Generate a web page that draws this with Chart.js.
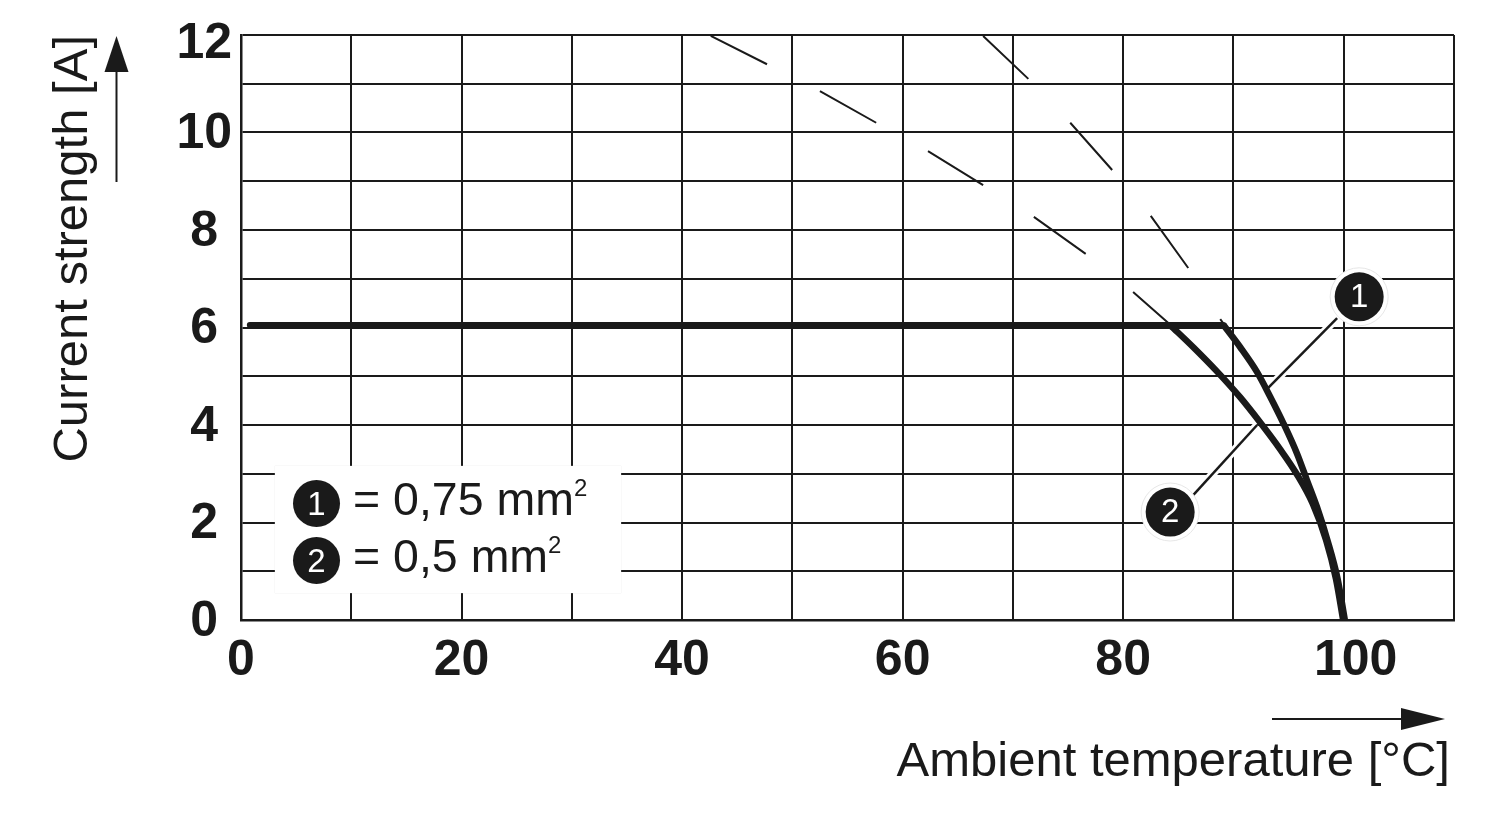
<!DOCTYPE html>
<html>
<head>
<meta charset="utf-8">
<title>Derating curve</title>
<script src="https://cdn.jsdelivr.net/npm/chart.js@4"></script>
<style>
    html, body { margin: 0; padding: 0; background: #fff; }
    #wrap { position: relative; width: 1500px; height: 820px; overflow: hidden; }
    #deratingChart { display: block; }
    #key {
        position: absolute; left: 275px; top: 466px; width: 346px; height: 127px;
        background: #fff; box-shadow: 0 0 1px #d8d8d8;
        font: 46.5px "Liberation Sans", sans-serif; color: #1a1a1a;
    }
    #key .row { position: absolute; left: 18px; height: 47px; line-height: 47px; white-space: nowrap; }
    #key .dot {
        display: inline-block; width: 47px; height: 47px; border-radius: 50%;
        background: #1a1a1a; color: #fff; text-align: center; font-size: 33px;
        vertical-align: top; margin-right: 13px;
    }
    #key .size { position: relative; top: -4px; }
    #key sup { font-size: 24px; line-height: 0; position: relative; top: -3px; }
</style>
</head>
<body>
<div id="wrap">
    <canvas id="deratingChart" width="1500" height="820"></canvas>
    <div id="key"></div>
</div>
<script>
var xTickLabels = ['0', '', '20', '', '40', '', '60', '', '80', '', '100', ''];
var yTickLabels = ['0', '', '2', '', '4', '', '6', '', '8', '', '10', '', '12'];
var xAxisTitle = 'Ambient temperature [°C]';
var yAxisTitle = 'Current strength [A]';

var seriesNames = ['1', '2'];
var seriesSizes = ['0,75 mm', '0,5 mm'];

// flat part shared by both sizes
var flatX = [0.8, 89.1];
var flatY = [6.05, 6.05];

var curve1X = [89.1, 90.6, 92.13, 93.33, 94.54, 95.75, 96.66, 97.57, 98.52, 99.45, 100.1];
var curve1Y = [6.05, 5.6, 5.09, 4.58, 4.03, 3.42, 2.87, 2.32, 1.64, 0.84, 0];
var curve2X = [84.26, 86.38, 88.5, 90.6, 92.43, 94.24, 95.75, 97.2, 98.4, 99.3, 99.95];
var curve2Y = [6.05, 5.59, 5.1, 4.57, 4.05, 3.5, 2.99, 2.38, 1.64, 0.84, 0];

// thin dashed extensions, null breaks the line
var dashes1X = [67.3, 71.4, null, 75.2, 79, null, 82.5, 85.9, null, 88.8, 89.2];
var dashes1Y = [11.98, 11.1, null, 10.2, 9.23, null, 8.29, 7.22, null, 6.17, 6.05];
var dashes2X = [42.6, 47.7, null, 52.5, 57.6, null, 62.3, 67.3, null, 71.9, 76.6, null, 80.9, 84.3];
var dashes2Y = [11.98, 11.4, null, 10.85, 10.2, null, 9.62, 8.92, null, 8.27, 7.51, null, 6.73, 6.05];

// callout circles and their leader lines
var calloutX = [101.4, 84.26];
var calloutY = [6.63, 2.215];
var leader1X = [99.4, 93.15];
var leader1Y = [6.19, 4.76];
var leader2X = [86.35, 92.15];
var leader2Y = [2.56, 4.0];

var ink = '#1a1a1a';
var fontFamily = '"Liberation Sans", Arial, sans-serif';

function points(xs, ys) {
    return xs.map(function (x, i) {
        return { x: x, y: ys[i] };
    });
}

function lineSet(xs, ys, width, color, order) {
    return {
        data: points(xs, ys),
        showLine: true,
        borderColor: color,
        borderWidth: width,
        pointRadius: 0,
        borderCapStyle: 'butt',
        order: order
    };
}

var keyBox = document.getElementById('key');
seriesNames.forEach(function (name, i) {
    var row = document.createElement('div');
    row.className = 'row';
    row.style.top = (14 + i * 57) + 'px';
    row.innerHTML = '<span class="dot">' + name + '</span><span class="size">= ' + seriesSizes[i] + '<sup>2</sup></span>';
    keyBox.appendChild(row);
});

// axis arrows and the numbers inside the callouts
var extrasPlugin = {
    id: 'extras',
    afterDraw: function (chart) {
        var c = chart.ctx;
        var area = chart.chartArea;
        c.save();
        c.strokeStyle = ink;
        c.fillStyle = ink;
        c.lineWidth = 2;

        var ax = area.left - 124.5;
        c.beginPath();
        c.moveTo(ax, area.top + 147);
        c.lineTo(ax, area.top + 30);
        c.stroke();
        c.beginPath();
        c.moveTo(ax, area.top + 1);
        c.lineTo(ax - 12, area.top + 37);
        c.lineTo(ax + 12, area.top + 37);
        c.closePath();
        c.fill();

        var ay = area.bottom + 99;
        c.beginPath();
        c.moveTo(area.right - 182, ay);
        c.lineTo(area.right - 50, ay);
        c.stroke();
        c.beginPath();
        c.moveTo(area.right - 9, ay);
        c.lineTo(area.right - 53, ay - 11);
        c.lineTo(area.right - 53, ay + 11);
        c.closePath();
        c.fill();

        c.fillStyle = '#fff';
        c.font = '33px ' + fontFamily;
        c.textAlign = 'center';
        c.textBaseline = 'middle';
        seriesNames.forEach(function (name, i) {
            c.fillText(name, chart.scales.x.getPixelForValue(calloutX[i]), chart.scales.y.getPixelForValue(calloutY[i]) + 1);
        });
        c.restore();
    }
};

var ctx = document.getElementById('deratingChart').getContext('2d');
var deratingChart = new Chart(ctx, {
    type: 'scatter',
    data: {
        datasets: [
            lineSet(dashes1X, dashes1Y, 2, ink, 6),
            lineSet(dashes2X, dashes2Y, 2, ink, 6),
            lineSet(leader1X, leader1Y, 8, '#fff', 5),
            lineSet(leader2X, leader2Y, 8, '#fff', 5),
            lineSet(leader1X, leader1Y, 2.5, ink, 4),
            lineSet(leader2X, leader2Y, 2.5, ink, 4),
            Object.assign(lineSet(flatX, flatY, 6, ink, 3), { borderCapStyle: 'round' }),
            Object.assign(lineSet(curve1X, curve1Y, 6.5, ink, 3), { cubicInterpolationMode: 'monotone' }),
            Object.assign(lineSet(curve2X, curve2Y, 6.5, ink, 3), { cubicInterpolationMode: 'monotone' }),
            {
                data: points(calloutX, calloutY),
                showLine: false,
                pointRadius: 29,
                pointBackgroundColor: '#fff',
                pointBorderColor: '#e6e6e6',
                pointBorderWidth: 1,
                order: 2
            },
            {
                data: points(calloutX, calloutY),
                showLine: false,
                pointRadius: 24.5,
                pointBackgroundColor: ink,
                pointBorderWidth: 0,
                order: 1
            }
        ]
    },
    options: {
        responsive: false,
        animation: false,
        layout: { padding: { top: 35, right: 46, left: 0, bottom: 0 } },
        plugins: {
            legend: { display: false },
            tooltip: { enabled: false }
        },
        scales: {
            x: {
                type: 'linear',
                min: 0,
                max: 110,
                afterFit: function (scale) { scale.height = 200; },
                border: { color: ink, width: 2.5 },
                grid: { color: ink, lineWidth: 2, drawTicks: false },
                ticks: {
                    stepSize: 10,
                    autoSkip: false,
                    maxRotation: 0,
                    padding: 11,
                    color: ink,
                    font: { family: fontFamily, size: 50, weight: 'bold' },
                    // the 100 label sits right of its gridline in the reference
                    callback: function (value, index) {
                        return value === 100 ? '\u00a0\u2009' + xTickLabels[index] : xTickLabels[index];
                    }
                },
                title: {
                    display: true,
                    text: xAxisTitle + '\u200a',
                    align: 'end',
                    color: ink,
                    font: { family: fontFamily, size: 49 },
                    padding: { top: 0, bottom: 28 }
                }
            },
            y: {
                type: 'linear',
                min: 0,
                max: 12,
                afterFit: function (scale) { scale.width = 241; },
                border: { color: ink, width: 2.5 },
                grid: { color: ink, lineWidth: 2, drawTicks: false },
                ticks: {
                    stepSize: 1,
                    autoSkip: false,
                    padding: 9,
                    crossAlign: 'center',
                    labelOffset: 2,
                    color: ink,
                    // top label sits a little below its gridline in the reference
                    font: function (context) {
                        var top = context.tick && context.tick.value === 12;
                        return { family: fontFamily, size: 50, weight: 'bold', lineHeight: top ? '14px' : 1.2 };
                    },
                    callback: function (value, index) {
                        return value === 12 ? ['', yTickLabels[index]] : yTickLabels[index];
                    }
                },
                title: {
                    display: true,
                    text: yAxisTitle,
                    align: 'end',
                    color: ink,
                    font: { family: fontFamily, size: 49 },
                    padding: { top: 44, bottom: 0 }
                }
            }
        }
    },
    plugins: [extrasPlugin]
});
</script>
</body>
</html>
